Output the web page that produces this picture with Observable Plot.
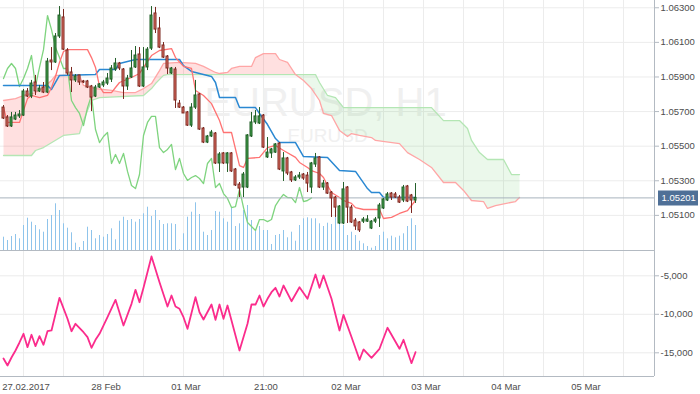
<!DOCTYPE html>
<html><head><meta charset="utf-8">
<script src="https://cdn.jsdelivr.net/npm/d3@7"></script>
<script src="https://cdn.jsdelivr.net/npm/@observablehq/plot@0.6"></script>
<style>
html,body{margin:0;padding:0;background:#fff;}
#chart{position:relative;width:700px;height:394px;overflow:hidden;background:#fff;}
#chart svg{position:absolute;left:0;}
</style></head><body><div id="chart"></div>
<script>
// ---- data (EURUSD, H1) ----
const symbol = "EURUSD";
const timeframe = "H1";
const open = [1.05723,1.05666,1.05614,1.05654,1.05672,1.05677,1.05816,1.05787,1.05868,1.05816,
1.05839,1.05810,1.05995,1.05984,1.06134,1.06244,1.06053,1.05926,1.05880,1.05909,
1.05874,1.05874,1.05845,1.05787,1.05839,1.05851,1.05862,1.05885,1.05943,1.05978,
1.05943,1.05845,1.05897,1.05955,1.06030,1.05845,1.05955,1.06064,1.06267,1.06180,
1.06082,1.06018,1.05920,1.05943,1.05746,1.05723,1.05695,1.05619,1.05723,1.05799,
1.05602,1.05521,1.05556,1.05573,1.05400,1.05458,1.05400,1.05458,1.05365,1.05278,
1.05261,1.05261,1.05556,1.05637,1.05631,1.05677,1.05435,1.05458,1.05463,1.05515,
1.05354,1.05429,1.05348,1.05302,1.05319,1.05336,1.05330,1.05261,1.05394,1.05435,
1.05261,1.05284,1.05232,1.05203,1.05053,1.05053,1.05261,1.05145,1.05070,1.05059,
1.05064,1.05064,1.05024,1.05064,1.05082,1.05140,1.05186,1.05226,1.05221,1.05203,
1.05186,1.05267,1.05215,1.05186];
const high = [1.05735,1.05677,1.05695,1.05695,1.05706,1.05828,1.05833,1.05880,1.05909,1.05851,
1.05868,1.06007,1.06070,1.06151,1.06307,1.06290,1.06064,1.05955,1.05914,1.05909,
1.05880,1.05880,1.05851,1.05851,1.05862,1.05880,1.05920,1.05966,1.06007,1.05984,
1.05949,1.05909,1.06053,1.06076,1.06070,1.06070,1.06070,1.06307,1.06302,1.06244,
1.06099,1.06024,1.05955,1.05955,1.05764,1.05729,1.05700,1.05746,1.05880,1.05804,
1.05608,1.05562,1.05591,1.05579,1.05463,1.05463,1.05463,1.05463,1.05371,1.05290,
1.05348,1.05567,1.05695,1.05706,1.05723,1.05683,1.05550,1.05487,1.05515,1.05521,
1.05463,1.05435,1.05354,1.05330,1.05348,1.05342,1.05348,1.05406,1.05458,1.05440,
1.05302,1.05290,1.05238,1.05209,1.05157,1.05290,1.05267,1.05157,1.05082,1.05064,
1.05088,1.05099,1.05070,1.05088,1.05169,1.05198,1.05232,1.05232,1.05232,1.05215,
1.05273,1.05273,1.05221,1.05284];
const low = [1.05654,1.05608,1.05608,1.05648,1.05660,1.05672,1.05781,1.05775,1.05793,1.05810,
1.05804,1.05804,1.05937,1.05978,1.06122,1.06053,1.05909,1.05810,1.05868,1.05851,
1.05862,1.05833,1.05700,1.05781,1.05833,1.05839,1.05851,1.05868,1.05932,1.05937,
1.05770,1.05822,1.05891,1.05949,1.05839,1.05839,1.05937,1.06053,1.06151,1.06064,
1.06007,1.05914,1.05914,1.05718,1.05718,1.05689,1.05614,1.05608,1.05712,1.05591,
1.05515,1.05515,1.05550,1.05394,1.05348,1.05394,1.05348,1.05348,1.05267,1.05203,
1.05203,1.05255,1.05550,1.05625,1.05625,1.05487,1.05429,1.05429,1.05458,1.05359,
1.05296,1.05330,1.05290,1.05296,1.05307,1.05302,1.05232,1.05226,1.05377,1.05255,
1.05244,1.05221,1.05088,1.05088,1.05047,1.05047,1.05053,1.05053,1.05013,1.05001,
1.05053,1.05059,1.05018,1.05053,1.05030,1.05134,1.05180,1.05186,1.05198,1.05169,
1.05174,1.05174,1.05111,1.05169];
const close = [1.05660,1.05614,1.05666,1.05677,1.05683,1.05816,1.05787,1.05862,1.05816,1.05833,
1.05810,1.05989,1.05984,1.06134,1.06255,1.06058,1.05920,1.05880,1.05903,1.05868,
1.05868,1.05839,1.05781,1.05839,1.05857,1.05868,1.05891,1.05949,1.05978,1.05949,
1.05845,1.05891,1.05949,1.06024,1.05845,1.05955,1.06058,1.06255,1.06174,1.06070,
1.06012,1.05949,1.05949,1.05764,1.05723,1.05689,1.05619,1.05723,1.05793,1.05596,
1.05521,1.05556,1.05579,1.05400,1.05452,1.05400,1.05458,1.05354,1.05273,1.05255,
1.05336,1.05562,1.05637,1.05672,1.05672,1.05492,1.05463,1.05481,1.05510,1.05365,
1.05429,1.05342,1.05302,1.05319,1.05330,1.05313,1.05284,1.05400,1.05429,1.05261,
1.05284,1.05226,1.05198,1.05145,1.05151,1.05250,1.05145,1.05059,1.05036,1.05013,
1.05076,1.05076,1.05064,1.05076,1.05157,1.05192,1.05221,1.05203,1.05203,1.05174,
1.05261,1.05180,1.05186,1.05201];
const volume = [1330,1000,1400,1600,1170,2500,3230,2830,2500,2070,
1830,3100,3500,4670,4000,2670,2230,1770,730,300,
900,2330,2000,1170,1500,1330,1600,2170,1070,2930,
3330,3000,3100,2830,3100,3670,4330,3400,4000,3000,
2600,2670,2670,2600,70,1670,3330,3830,4770,3600,
1830,1500,2000,3900,3830,3170,2830,4270,2400,2670,
4000,4500,3000,2070,2400,2000,2000,600,1500,1600,
2000,1270,1830,930,2500,3170,3270,3170,3170,2670,
2400,2730,2600,3330,3330,2500,1500,1830,1500,930,
670,400,230,400,1500,1830,1170,1430,1270,1430,
1670,2400,3170,2500];
// Ichimoku lines: [candle, price]
const tenkan = [[0,1.05723],[1,1.05637],[4,1.05637],[5,1.05706],[6,1.05775],[7,1.05793],[9,1.05781],[11,1.05793],
[12,1.05839],[13,1.05903],[14,1.05984],[15,1.06047],[16,1.06058],[21,1.06058],[22,1.06012],[23,1.05955],
[24,1.05845],[25,1.05810],[27,1.05810],[28,1.05839],[29,1.05868],[32,1.05897],[34,1.05920],[35,1.05955],
[37,1.06024],[39,1.06053],[42,1.06064],[43,1.06012],[45,1.05961],[47,1.05949],[48,1.05822],[50,1.05793],
[52,1.05746],[54,1.05648],[55,1.05579],[57,1.05579],[59,1.05388],[60,1.05377],[61,1.05429],[64,1.05435],
[66,1.05492],[68,1.05504],[70,1.05475],[73,1.05435],[74,1.05406],[76,1.05377],[77,1.05359],[79,1.05342],
[80,1.05319],[81,1.05273],[82,1.05232],[84,1.05203],[85,1.05186],[87,1.05169],[88,1.05145],[90,1.05134],
[94,1.05134],[95,1.05082],[97,1.05088],[99,1.05111],[101,1.05128],[102,1.05157],[103,1.05186]];
const kijun = [[0,1.05851],[11,1.05851],[12,1.05828],[14,1.05909],[23,1.05914],[24,1.05943],[28,1.05943],
[29,1.05978],[32,1.05995],[33,1.06001],[44,1.06001],[45,1.05966],[47,1.05932],[50,1.05914],[52,1.05903],
[53,1.05868],[54,1.05781],[58,1.05781],[59,1.05723],[63,1.05723],[64,1.05689],[66,1.05625],[68,1.05544],
[69,1.05521],[73,1.05521],[75,1.05440],[81,1.05435],[84,1.05359],[88,1.05354],[91,1.05255],[92,1.05232],
[94,1.05232],[95,1.05203],[103,1.05203]];
const spanA = [[0,1.05764],[3,1.05775],[5,1.05793],[8,1.05810],[10,1.05839],[12,1.05880],[13,1.05909],
[19,1.05909],[20,1.05851],[23,1.05833],[27,1.05822],[30,1.05810],[33,1.05810],[35,1.05833],[37,1.05862],
[39,1.05937],[40,1.05978],[44,1.05984],[48,1.05978],[50,1.05961],[53,1.05926],[54,1.05920],[56,1.05926],
[57,1.05949],[59,1.05961],[62,1.05961],[63,1.06012],[65,1.06035],[68,1.06035],[69,1.06001],[71,1.05984],
[73,1.05914],[75,1.05880],[77,1.05833],[79,1.05764],[80,1.05689],[82,1.05677],[84,1.05591],[86,1.05556],
[87,1.05573],[89,1.05562],[92,1.05550],[93,1.05533],[99,1.05515],[101,1.05463],[104,1.05423],[107,1.05377],
[110,1.05290],[113,1.05290],[115,1.05244],[117,1.05186],[120,1.05180],[121,1.05140],[123,1.05157],
[128,1.05180],[129,1.05203]];
const spanB = [[0,1.05446],[7,1.05446],[8,1.05475],[10,1.05492],[15,1.05562],[19,1.05573],[20,1.05648],
[21,1.05706],[22,1.05764],[24,1.05781],[35,1.05793],[37,1.05833],[38,1.05862],[40,1.05909],[41,1.05914],
[78,1.05914],[79,1.05868],[81,1.05793],[83,1.05781],[85,1.05723],[107,1.05723],[110,1.05648],[114,1.05648],
[116,1.05602],[117,1.05533],[119,1.05463],[121,1.05423],[125,1.05423],[127,1.05336],[129,1.05336]];
const cloudCrossCandle = 73;
const chikou = [1.05891,1.05949,1.05978,1.05949,1.05845,1.05891,1.05949,1.06024,1.05845,1.05955,
1.06058,1.06255,1.06174,1.06070,1.06012,1.05949,1.05949,1.05764,1.05723,1.05689,
1.05619,1.05723,1.05793,1.05596,1.05521,1.05556,1.05579,1.05400,1.05452,1.05400,
1.05458,1.05354,1.05273,1.05255,1.05336,1.05562,1.05637,1.05672,1.05672,1.05492,
1.05463,1.05481,1.05510,1.05365,1.05429,1.05342,1.05302,1.05319,1.05330,1.05313,
1.05284,1.05400,1.05429,1.05261,1.05284,1.05226,1.05198,1.05145,1.05151,1.05250,
1.05145,1.05059,1.05036,1.05013,1.05076,1.05076,1.05064,1.05076,1.05157,1.05192,
1.05221,1.05203,1.05203,1.05174,1.05261,1.05180,1.05186,1.05201];
// lower panel oscillator: [candle, value]
const flow = [[0,-15740],[1,-16650],[2,-15610],[3,-14700],[4,-13660],[5,-12530],[6,-14270],[7,-12660],
[8,-14140],[9,-12840],[10,-13960],[11,-12200],[12,-12100],[14,-7860],[16,-10580],[17,-12200],[18,-11230],
[20,-12330],[21,-12970],[22,-14350],[23,-13310],[24,-12530],[26,-10380],[28,-8120],[30,-11450],[32,-8640],
[33,-6820],[34,-8430],[35,-6560],[37,-2490],[39,-5830],[41,-8990],[42,-7560],[43,-8990],[44,-9290],
[45,-10380],[46,-11880],[48,-7780],[49,-9730],[50,-10680],[52,-8730],[53,-10710],[54,-8730],[55,-10580],
[56,-8860],[59,-14700],[61,-11230],[62,-8730],[63,-8730],[64,-7560],[65,-8990],[66,-7990],[67,-7130],
[68,-6560],[69,-7690],[70,-6260],[72,-8300],[74,-6480],[76,-7990],[78,-4830],[79,-6560],[80,-4960],
[82,-7990],[84,-12100],[85,-10070],[87,-12950],[89,-15910],[90,-14570],[92,-15650],[94,-14480],
[96,-11750],[99,-14480],[100,-13310],[102,-16350],[103,-14920]];
const priceTicks = [1.051,1.053,1.055,1.057,1.059,1.061,1.063];
const flowTicks = [-5000,-10000,-15000];
const xTickCandle = [5,25,45,65,85,105,125,145];
const xTickLabels = ["27.02.2017","28 Feb","01 Mar","21:00","02 Mar","03 Mar","04 Mar","05 Mar"];

// ---- view settings ----
const W = 700, MR = 46;
const xDomain = [-0.75, 162.75];
const priceDomain = [1.04897, 1.06342];
const flowDomain = [-18078, -1714];
const volDomain = [0, 25000];
const gridColor = "#ececec", axisColor = "#b3bac2", textColor = "#4d4d4d";
const font = "'Liberation Sans', Arial, sans-serif";
const wmFont = "'Liberation Sans Narrow', 'Liberation Sans', sans-serif";
const baseStyle = `background: transparent; font-family: ${font}; font-size: 9.5px; color: ${textColor};`;
const gridCandles = d3.range(5, xDomain[1], 10);
const labelByCandle = new Map(xTickCandle.map((c, i) => [c, xTickLabels[i]]));

const candles = close.map((c, i) => ({i, open: open[i], high: high[i], low: low[i], close: c}));
const lastPrice = close[close.length - 1];
const pinkPoly = [...spanA.filter(d => d[0] <= cloudCrossCandle), ...spanB.filter(d => d[0] <= cloudCrossCandle).reverse()];
const greenPoly = [...spanA.filter(d => d[0] >= cloudCrossCandle), ...spanB.filter(d => d[0] >= cloudCrossCandle).reverse()];
const up = d => d.close >= d.open;

const chart = document.getElementById("chart");
function place(svg, top) { svg.style.top = top + "px"; chart.appendChild(svg); }

// layer A: grid + watermark
place(Plot.plot({
  width: W, height: 251, marginTop: 0, marginBottom: 1, marginLeft: 0, marginRight: MR,
  style: baseStyle,
  x: {domain: xDomain, axis: null}, y: {domain: priceDomain, axis: null},
  marks: [
    Plot.gridX(gridCandles, {stroke: gridColor, strokeOpacity: 1}),
    Plot.gridY(priceTicks, {stroke: gridColor, strokeOpacity: 1}),
    Plot.text([`${symbol}, ${timeframe}`], {frameAnchor: "middle", dx: -2, dy: -22, fontSize: 40,
      fontFamily: wmFont, fill: "#f0f0f0"}),
    Plot.text([symbol], {frameAnchor: "middle", dx: 0, dy: 10, fontSize: 19,
      fontFamily: wmFont, fill: "#f0f0f0"})
  ]
}), 0);

// layer B: volume
place(Plot.plot({
  width: W, height: 251, marginTop: 0, marginBottom: 1, marginLeft: 0, marginRight: MR,
  style: baseStyle,
  x: {domain: xDomain, axis: null}, y: {domain: volDomain, axis: null},
  marks: [
    Plot.ruleX(volume, {x: (d, i) => i, y1: 0, y2: d => d, stroke: "#8fc4eb", strokeWidth: 1})
  ]
}), 0);

// layer C: price panel
place(Plot.plot({
  width: W, height: 251, marginTop: 0, marginBottom: 1, marginLeft: 0, marginRight: MR,
  style: baseStyle,
  x: {domain: xDomain, axis: null}, y: {domain: priceDomain, axis: null},
  marks: [
    Plot.line(pinkPoly, {x: d => d[0], y: d => d[1], fill: "#ff0000", fillOpacity: 0.12, stroke: "none"}),
    Plot.line(greenPoly, {x: d => d[0], y: d => d[1], fill: "#22b422", fillOpacity: 0.09, stroke: "none"}),
    Plot.line(spanB, {x: d => d[0], y: d => d[1], stroke: "#b4e6b4", strokeWidth: 1.3}),
    Plot.line(spanA, {x: d => d[0], y: d => d[1], stroke: "#ffa6a6", strokeWidth: 1.3}),
    Plot.line(chikou, {x: (d, i) => i, y: d => d, stroke: "#7fd47f", strokeWidth: 1.3}),
    Plot.line(kijun, {x: d => d[0], y: d => d[1], stroke: "#2a88d2", strokeWidth: 1.5}),
    Plot.line(tenkan, {x: d => d[0], y: d => d[1], stroke: "#ff7373", strokeWidth: 1.3}),
    Plot.ruleY([lastPrice], {stroke: "#a9b3bd", strokeWidth: 1}),
    Plot.ruleX(candles, {x: "i", y1: "low", y2: "high", stroke: d => up(d) ? "#25602b" : "#7a271f", strokeWidth: 1}),
    Plot.rect(candles, {x1: d => d.i - 0.25, x2: d => d.i + 0.25, y1: "open", y2: "close",
      fill: d => up(d) ? "#45a34c" : "#e6766a", stroke: d => up(d) ? "#1f5c25" : "#7a271f", strokeWidth: 1}),
    Plot.ruleY([priceDomain[0]], {stroke: axisColor}),
    Plot.ruleX([xDomain[1]], {stroke: axisColor}),
    Plot.axisY({anchor: "right", ticks: priceTicks, tickFormat: d3.format(".5f"), tickSize: 4, tickPadding: 2,
      stroke: axisColor, fill: textColor, fontSize: 9.5}),
    Plot.ruleY([lastPrice], {insetLeft: 658, insetRight: -44, stroke: "#4f7097", strokeWidth: 15}),
    Plot.text([lastPrice], {y: d => d, frameAnchor: "right", dx: 7, textAnchor: "start", fill: "white",
      text: d => d.toFixed(5), fontSize: 9.5})
  ]
}), 0);

// lower panel
place(Plot.plot({
  width: W, height: 144, marginTop: 0, marginBottom: 18, marginLeft: 0, marginRight: MR,
  style: baseStyle,
  x: {domain: xDomain, axis: null}, y: {domain: flowDomain, axis: null},
  marks: [
    Plot.gridX(gridCandles, {stroke: gridColor, strokeOpacity: 1}),
    Plot.gridY(flowTicks, {stroke: gridColor, strokeOpacity: 1}),
    Plot.line(flow, {x: d => d[0], y: d => d[1], stroke: "#fb2c8c", strokeWidth: 1.8}),
    Plot.ruleY([flowDomain[0]], {stroke: axisColor}),
    Plot.ruleY([flowDomain[1]], {stroke: axisColor}),
    Plot.ruleX([xDomain[1]], {stroke: axisColor}),
    Plot.axisY({anchor: "right", ticks: flowTicks, tickFormat: d => d.toLocaleString("en-US"), tickSize: 4,
      tickPadding: 2, stroke: axisColor, fill: textColor, fontSize: 9.5}),
    Plot.axisX({anchor: "bottom", ticks: xTickCandle, tickFormat: d => labelByCandle.get(d), tickSize: 0,
      tickPadding: 7, dx: 2.5, fill: textColor, fontSize: 9.5})
  ]
}), 250);
</script></body></html>
